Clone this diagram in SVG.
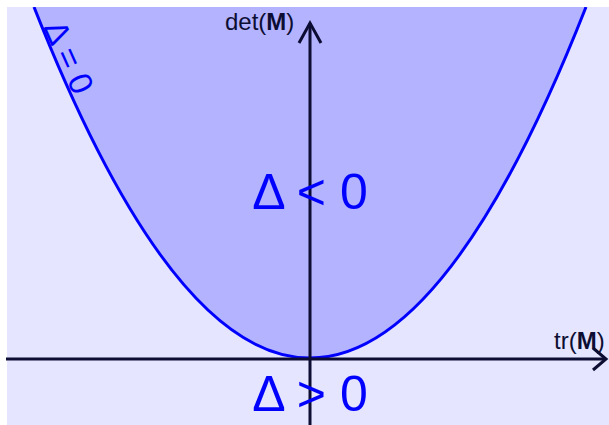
<svg xmlns="http://www.w3.org/2000/svg" width="609" height="425" viewBox="0 0 609 425">
<style>
.bg{fill:#e5e5ff}
.reg{fill:#b3b3ff;stroke:none}
.curve{fill:none;stroke:#0000ff;stroke-width:3}
.axis{fill:none;stroke:#0d0d33;stroke-width:3}
.lab{font-family:"Liberation Sans",Arial,sans-serif;fill:#0d0d33;font-size:24px}
.big{font-family:"Liberation Sans",Arial,sans-serif;fill:#0000ff;font-size:50px}
.d0{font-family:"Liberation Sans",Arial,sans-serif;fill:#0000ff;font-size:33px}
</style>
<defs><clipPath id="c"><rect x="7" y="7" width="602" height="418"/></clipPath></defs>
<rect x="0" y="0" width="609" height="425" fill="#ffffff"/>
<rect class="bg" x="7" y="7" width="602" height="418"/>
<g id="region" clip-path="url(#c)">
<path class="reg" d="M 34 7 Q 310 709 586 7 Z"/>
<path class="curve" d="M 34 7 Q 310 709 586 7"/>
</g>
<g id="connectors">
<path class="axis" d="M 6 359 H 606"/>
<path class="axis" d="M 593 348 L 606 359 L 593 370"/>
<path class="axis" d="M 310 425 V 23"/>
<path class="axis" d="M 299 43 L 310 23 L 321 43"/>
</g>
<g id="labels">
<text class="lab" x="225" y="30">det(<tspan font-weight="bold">M</tspan>)</text>
<text class="lab" x="554" y="349">tr(<tspan font-weight="bold">M</tspan>)</text>
<text class="big" x="310" y="209" text-anchor="middle">Δ &lt; 0</text>
<text class="big" x="310" y="411" text-anchor="middle">Δ &gt; 0</text>
<text class="d0" x="43" y="27" transform="rotate(66 43 27)">Δ = 0</text>
</g>
</svg>
